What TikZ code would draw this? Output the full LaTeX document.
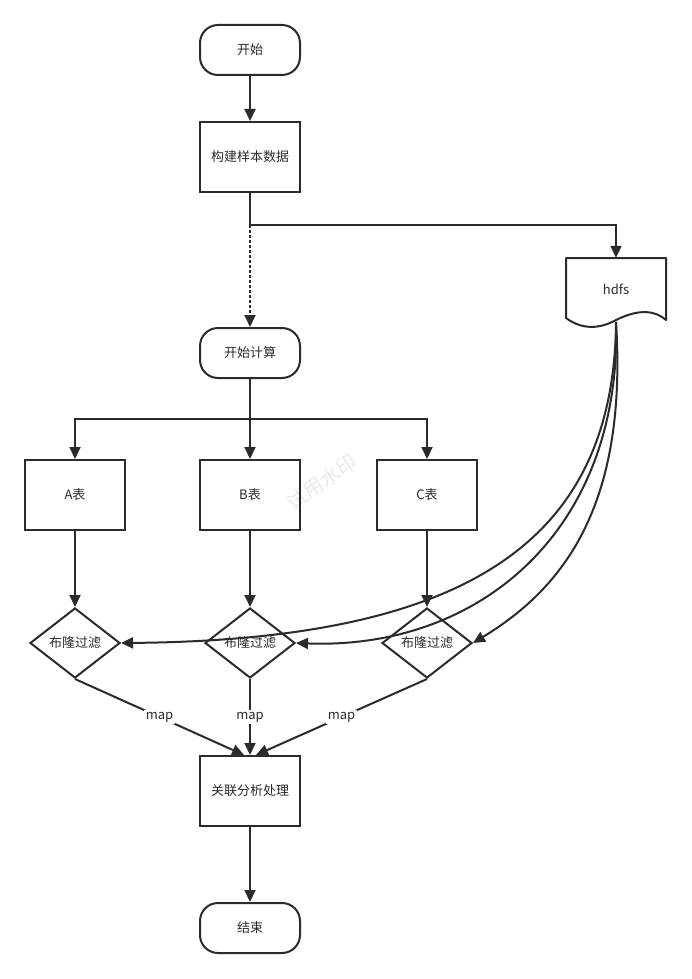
\documentclass[tikz,border=0pt]{standalone}
\usepackage{fontspec}
\setmainfont{Noto Sans CJK SC}
\usetikzlibrary{arrows.meta,shapes.geometric,calc}
\definecolor{ink}{HTML}{2B2B2B}
\begin{document}
\begin{tikzpicture}[x=1pt,y=-1pt,
  every node/.style={font=\fontsize{13}{15}\selectfont, text=ink},
  base/.style={draw=ink, line width=2pt},
  term/.style={base, rounded corners=18pt, minimum width=100pt, minimum height=50pt},
  proc/.style={base, minimum width=100pt, minimum height=70pt},
  dec/.style={base, diamond, minimum width=90pt, minimum height=70pt, inner sep=0pt},
  arr/.style={draw=ink, line width=2pt, -{Triangle[length=12pt,width=11pt]}},
  dotarr/.style={arr, dash pattern=on 2.5pt off 2.5pt},
  maplab/.style={fill=white, inner sep=1.5pt},
  wmark/.style={rotate=35, text=black!9, font=\fontsize{20}{22}\selectfont}
]
\path[use as bounding box] (0,0) rectangle (691,979);

% watermark
\node[wmark] (wm) at (322,482) {试用水印};

% main column
\node[term] (start) at (250,50) {开始};
\node[proc] (build) at (250,157) {构建样本数据};
\node[term] (calc) at (250,353) {开始计算};

% hdfs document shape
\draw[base, line join=round] (566,258) -- (666,258) -- (666,320)
  .. controls (656,311) and (640,308) .. (616,320)
  .. controls (600,329) and (582,330) .. (566,318) -- cycle;
\node (hdfs) at (616,289) [minimum width=100pt, minimum height=62pt] {hdfs};
\coordinate (hb) at (616,322);

% tables
\node[proc] (A) at (75,495) {A表};
\node[proc] (B) at (250,495) {B表};
\node[proc] (C) at (427,495) {C表};

% bloom filters
\node[dec] (dA) at (75,643) {布隆过滤};
\node[dec] (dB) at (250,643) {布隆过滤};
\node[dec] (dC) at (427,643) {布隆过滤};

% result & end
\node[proc] (res) at (250,791) {关联分析处理};
\node[term] (end) at (250,928) {结束};

% connectors
\draw[arr] (start) -- (build);
\coordinate (split) at (250,225);
\draw[base] (build.south) -- (split);
\draw[arr] (split) -| (hdfs.north);
\draw[dotarr] (split) -- (calc.north);

\coordinate (br) at (250,419);
\draw[base] (calc.south) -- (br);
\draw[arr] (br) -| (A.north);
\draw[arr] (br) -- (B.north);
\draw[arr] (br) -| (C.north);

\draw[arr] (A) -- (dA);
\draw[arr] (B) -- (dB);
\draw[arr] (C) -- (dC);

\draw[arr] (hb) .. controls (614,540) and (470,640) .. (dA.east);
\draw[arr] (hb) .. controls (622,530) and (480,650) .. (dB.east);
\draw[arr] (hb) .. controls (628,510) and (560,590) .. (dC.east);

\draw[arr] (dA.south) -- node[maplab, pos=0.5] {map} ($(res.north)+(-6,0)$);
\draw[arr] (dB.south) -- node[maplab, pos=0.5] {map} (res.north);
\draw[arr] (dC.south) -- node[maplab, pos=0.5] {map} ($(res.north)+(6,0)$);

\draw[arr] (res) -- (end);
\end{tikzpicture}
\end{document}
